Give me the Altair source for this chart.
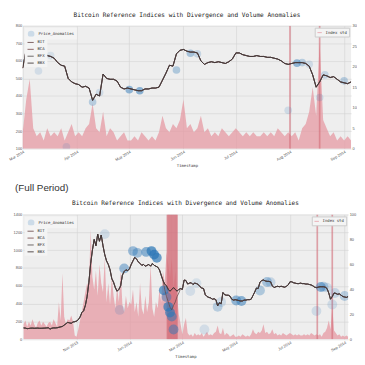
import altair as alt
import pandas as pd

TITLE = "Bitcoin Reference Indices with Divergence and Volume Anomalies"
SERIES = ["BIT", "BCA", "BFX", "BBX"]
LINE_COLORS = ["#6b4a4a", "#7d5050", "#555050", "#3a3030"]
ANOM_LABEL = "Price_Anomalies"
PINK = "#e59aa3"
RED = "#d26a77"
BLUE = "#2f78b7"

# 2-day samples starting 2013-09-02
PRICE_PRE = [
    128, 126, 120, 122, 125, 126, 124, 125, 126, 124, 124, 125, 126, 128, 130,
    115, 125, 128, 128, 130, 135, 140, 145, 160, 175, 190, 185, 180, 195, 198,
    205, 220, 250, 300, 320, 380, 480, 640, 850, 1000, 1120, 1050, 1180, 1100, 1170,
    1050, 950, 880, 840, 780, 680, 640, 580, 540, 560, 600, 720, 760, 780, 770, 790,
    840, 880, 920, 900, 870, 850, 830, 840, 820, 830, 840, 820, 850, 830, 820,
    810, 780, 720, 660, 620, 600, 560, 540, 560, 580, 560, 540, 560, 570,
]
PRICE_POST = [
    560, 665, 660, 620, 630, 635, 615, 630, 625, 615, 590, 575, 570, 500, 480, 470,
    465, 450, 455, 445, 375, 410, 400, 525, 500, 495, 495, 485, 450, 440, 445,
    440, 435, 430, 430, 440, 440, 445, 445, 450, 490, 530, 575, 570, 640, 660,
    665, 655, 650, 650, 645, 600, 580, 590, 595, 590, 595, 590, 585, 595, 610,
    645, 645, 635, 630, 625, 625, 630, 625, 625, 620, 620, 615, 610, 600, 585, 580,
    585, 590, 590, 590, 585, 570, 520, 450, 480, 520, 515, 505, 510, 495, 480,
    475, 470, 480,
]
STD_PRE = [
    12, 15, 10, 14, 11, 16, 12, 9, 13, 15, 11, 14, 12, 10, 13,
    14, 11, 16, 13, 10, 30, 15, 53, 18, 12, 16, 15, 19, 14, 3,
    2, 8, 15, 22, 30, 38, 45, 42, 88, 50, 40, 55, 35, 60, 45,
    38, 65, 30, 45, 28, 50, 35, 25, 42, 30, 55, 28, 22, 35, 25, 30,
    28, 40, 22, 30, 18, 45, 25, 20, 35, 22, 30, 60, 25, 18, 30,
    25, 40, 30, 55, 45, 70, 60, 50, 65, 40, 55, 35, 20, 12,
]
STD_POST = [
    4, 12, 17, 5, 3, 4, 2, 5, 3, 4, 3, 5, 2, 4, 6, 3,
    4, 3, 5, 6, 11, 5, 4, 9, 3, 5, 4, 2, 3, 4, 2,
    2, 3, 2, 4, 3, 2, 3, 2, 4, 8, 5, 4, 6, 5, 7,
    12, 5, 6, 4, 5, 8, 4, 5, 3, 4, 3, 5, 4, 3, 4,
    5, 4, 3, 4, 3, 4, 3, 3, 4, 3, 4, 3, 5, 4, 3, 4,
    3, 4, 2, 5, 6, 9, 15, 8, 26, 7, 5, 3, 4, 2, 3,
    2, 3, 2,
]
BIT_DIV_DATES = ["2014-02-09", "2014-02-11", "2014-02-13", "2014-02-15", "2014-02-17",
                 "2014-02-19", "2014-02-21", "2014-02-23", "2014-02-25"]
BIT_DIV_VALUES = [560, 480, 420, 360, 330, 380, 420, 480, 520]

VOLUME_ANOMALY_DATES = [
    "2014-02-12", "2014-02-13", "2014-02-14", "2014-02-15", "2014-02-16", "2014-02-17",
    "2014-02-18", "2014-02-19", "2014-02-20", "2014-02-21", "2014-02-22", "2014-02-23",
    "2014-08-01", "2014-08-18",
]

ANOM_DATES = [
    "2013-12-03", "2013-12-20", "2013-12-25", "2014-01-04", "2014-01-09", "2014-01-19",
    "2014-01-25", "2014-01-28", "2014-01-31", "2014-02-08", "2014-02-11", "2014-02-13",
    "2014-02-15", "2014-02-17", "2014-02-19", "2014-03-10", "2014-03-17", "2014-03-26",
    "2014-04-10", "2014-04-14", "2014-05-01", "2014-05-07", "2014-05-28", "2014-06-05",
    "2014-06-09", "2014-07-31", "2014-08-05", "2014-08-08", "2014-08-12", "2014-08-18",
    "2014-08-21", "2014-09-01",
]
ANOM_PRICE = [
    1180, 330, 795, 990, 970, 980,
    990, 950, 915, 550, 475, 365,
    300, 255, 110, 542, 630, 110,
    365, 419, 436, 430, 548, 643,
    640, 318, 587, 590, 580, 391,
    520, 486,
]
ANOM_SCORE = [
    0.15, 0.15, 0.5, 0.5, 0.45, 0.6,
    0.85, 0.9, 0.8, 0.8, 0.5, 0.85,
    0.8, 0.6, 0.55, 0.12, 0.1, 0.12,
    0.3, 0.15, 0.55, 0.6, 0.35, 0.4,
    0.2, 0.15, 0.55, 0.3, 0.15, 0.15,
    0.2, 0.3,
]

dates = pd.date_range("2013-09-02", periods=len(PRICE_PRE) + len(PRICE_POST), freq="2D")
price = PRICE_PRE + PRICE_POST
std = STD_PRE + STD_POST
std_df = pd.DataFrame({"date": dates, "std": std, "kind": "Index std"})

div = dict(zip(pd.to_datetime(BIT_DIV_DATES), BIT_DIV_VALUES))
rows = []
for s in SERIES:
    for d, p in zip(dates, price):
        rows.append({"date": d, "series": s, "price": div.get(d, p) if s == "BIT" else p})
lines_df = pd.DataFrame(rows)
vol_df = pd.DataFrame({"date": pd.to_datetime(VOLUME_ANOMALY_DATES)})
anom_df = pd.DataFrame({"date": pd.to_datetime(ANOM_DATES), "price": ANOM_PRICE,
                        "score": ANOM_SCORE, "label": ANOM_LABEL})

MONO = "DejaVu Sans Mono"
LEG_FILL = "#f4f4f4"


def dt(ts):
    return alt.DateTime(year=ts.year, month=ts.month, date=ts.day)


def panel(start, end, first_tick, ymin, ymax, ystep, rmax, rstep, month_step, width, height, psize):
    lo, hi = pd.Timestamp(start), pd.Timestamp(end)
    months = pd.date_range(pd.Timestamp(first_tick), hi, freq=f"{month_step}MS")
    x = alt.X("date:T", scale=alt.Scale(domain=[dt(lo), dt(hi)]),
              axis=alt.Axis(values=[dt(m) for m in months], format="%b %Y", labelAngle=-30,
                            labelAlign="right", labelBaseline="top", title="Timestamp",
                            grid=True, labelPadding=1, tickSize=0, titlePadding=2))
    sel = lambda df: df[(df.date >= lo - pd.Timedelta(days=2)) & (df.date <= hi + pd.Timedelta(days=2))]
    left_vals = list(range(ymin, ymax + 1, ystep))
    area = alt.Chart(sel(std_df)).mark_area(opacity=0.75, clip=True).encode(
        x=x,
        y=alt.Y("std:Q", scale=alt.Scale(domain=[0, rmax], nice=False),
                axis=alt.Axis(orient="right", values=list(range(0, rmax + 1, rstep)),
                              grid=False, title=None, tickSize=0, labelPadding=1)),
        color=alt.Color("kind:N", scale=alt.Scale(domain=["Index std"], range=[PINK]),
                        legend=alt.Legend(orient="top-right", title=None, symbolType="stroke",
                                          symbolStrokeColor=PINK, symbolStrokeWidth=1,
                                          strokeColor="#cccccc")),
    )
    rules = alt.Chart(sel(vol_df)).mark_rule(color=RED, opacity=0.6, strokeWidth=1.7, clip=True).encode(x=x)
    yprice = alt.Y("price:Q", scale=alt.Scale(domain=[ymin, ymax], nice=False),
                   axis=alt.Axis(orient="left", values=left_vals, grid=True, title=None,
                                 tickSize=0, labelPadding=1, format="d"))
    pts = alt.Chart(sel(anom_df)).mark_circle(size=psize, clip=True).encode(
        x=x,
        y=alt.Y("price:Q", scale=alt.Scale(domain=[ymin, ymax], nice=False), axis=None),
        color=alt.Color("label:N", scale=alt.Scale(domain=[ANOM_LABEL], range=[BLUE]),
                        legend=alt.Legend(orient="none", legendX=2, legendY=2, title=None,
                                          symbolOpacity=0.2, symbolSize=45, symbolType="circle",
                                          padding=2, fillColor=LEG_FILL, labelLimit=80)),
        opacity=alt.Opacity("score:Q", scale=alt.Scale(domain=[0, 1], range=[0.05, 0.85]), legend=None),
    )
    ln = alt.Chart(sel(lines_df)).mark_line(strokeWidth=0.9, opacity=0.85, clip=True).encode(
        x=x, y=yprice,
        color=alt.Color("series:N", scale=alt.Scale(domain=SERIES, range=LINE_COLORS),
                        legend=alt.Legend(orient="none", legendX=2, legendY=11, title=None,
                                          symbolType="stroke", symbolStrokeWidth=1,
                                          symbolSize=40, padding=2, fillColor=LEG_FILL)),
    )
    return alt.layer(area, rules, pts, ln).resolve_scale(
        y="independent", color="independent", opacity="independent"
    ).properties(width=width, height=height,
                 title=alt.Title(TITLE, font=MONO, fontSize=6.2, fontWeight="normal",
                                 color="#222", offset=6))


top = panel("2014-03-01", "2014-09-05", "2014-03-01", 100, 800, 100, 30, 5, 1, 334, 125, 60)
bottom = panel("2013-09-01", "2014-09-05", "2013-11-01", 0, 1400, 200, 100, 20, 2, 331, 127, 100)

chart = alt.vconcat(
    top,
    alt.vconcat(bottom).properties(
        title=alt.Title("(Full Period)", anchor="start", font="Liberation Sans", fontSize=10,
                        fontWeight="normal", color="#333", offset=8, dx=2)),
    spacing=14,
).properties(padding=0).configure_view(fill="#eeeeee", stroke=None).configure_axis(
    labelFontSize=4, labelColor="#555", titleFontSize=4, titleColor="#444",
    titleFontWeight="normal", gridColor="#d2d2d2", gridWidth=0.6, domain=False,
    labelFont="Liberation Sans", titleFont=MONO,
).configure_legend(
    labelFont=MONO, labelFontSize=4, labelColor="#333", padding=2, rowPadding=1,
    fillColor=LEG_FILL, offset=2, symbolSize=20, labelOffset=3,
)

chart.save("out.html", embed_options={"renderer": "svg", "actions": False})
